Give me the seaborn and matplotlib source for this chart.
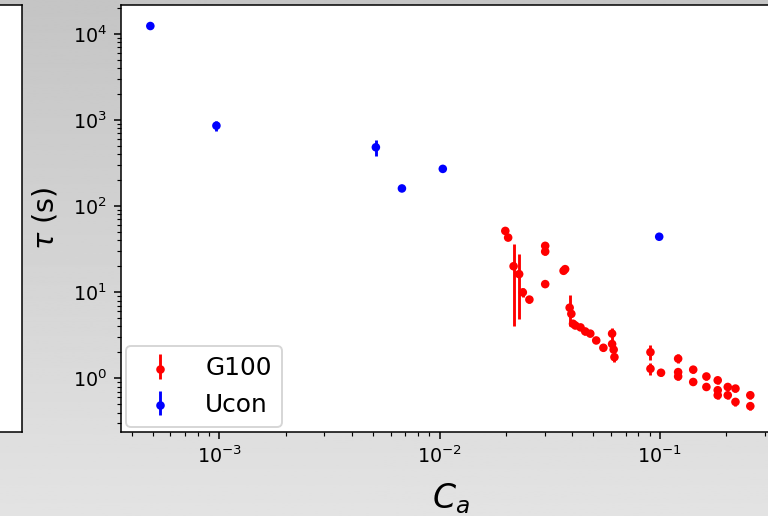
import numpy as np
import pandas as pd
import seaborn as sns
from matplotlib import pyplot as plt
from matplotlib.legend_handler import HandlerTuple

# G100 points
g100_ca = [0.0199, 0.0205, 0.0217, 0.0230, 0.0239, 0.0256, 0.0302, 0.0302, 0.0302,
           0.0366, 0.0372, 0.0390, 0.0397, 0.0404, 0.0414, 0.0437, 0.0459, 0.0484,
           0.0515, 0.0555, 0.0608, 0.0608, 0.0618, 0.0623, 0.0908, 0.0908, 0.1014,
           0.1213, 0.1213, 0.1213, 0.1420, 0.1420, 0.1630, 0.1630, 0.1835, 0.1835,
           0.1835, 0.2038, 0.2038, 0.2209, 0.2209, 0.258, 0.258]
g100_tau = [51.4, 43.0, 20.0, 16.2, 9.95, 8.2, 34.5, 29.6, 12.4,
            17.7, 18.5, 6.6, 5.6, 4.3, 4.1, 3.9, 3.5, 3.3,
            2.75, 2.26, 3.3, 2.5, 2.15, 1.76, 2.01, 1.29, 1.16,
            1.69, 1.18, 1.05, 1.26, 0.906, 1.05, 0.793, 0.948, 0.727,
            0.636, 0.793, 0.636, 0.760, 0.532, 0.636, 0.475]
g100_err = [3.0, 3.0, 16.0, 11.3, 1.2, 0.8, 3.0, 2.5, 1.0,
            1.0, 1.0, 2.6, 0.5, 0.4, 0.3, 0.3, 0.3, 0.2,
            0.2, 0.2, 0.5, 0.3, 0.2, 0.2, 0.4, 0.2, 0.1,
            0.2, 0.1, 0.1, 0.1, 0.08, 0.1, 0.07, 0.08, 0.06,
            0.06, 0.07, 0.06, 0.07, 0.05, 0.06, 0.05]

# Ucon points
ucon_ca = [4.86e-4, 9.7e-4, 5.14e-3, 6.75e-3, 1.035e-2, 0.0995]
ucon_tau = [1.23e4, 857, 481, 160, 270, 44]
ucon_err = [500, 120, 100, 10, 15, 2]

bg_shades = [0.77, 0.89]

df = pd.DataFrame({
    "Ca": g100_ca + ucon_ca,
    "tau": g100_tau + ucon_tau,
    "fluid": ["G100"] * len(g100_ca) + ["Ucon"] * len(ucon_ca),
})
colors = {"G100": "red", "Ucon": "blue"}

dpi = 138
fig = plt.figure(figsize=(768 / dpi, 516 / dpi), dpi=dpi)

# gray backdrop of the window
bg = fig.add_axes([0, 0, 1, 1], zorder=-10)
bg.imshow(np.linspace(bg_shades[0], bg_shades[1], 256)[:, None], cmap="gray",
          vmin=0, vmax=1, aspect="auto", extent=[0, 1, 0, 1])
bg.axis("off")

# edge of the neighbouring panel
left = fig.add_axes([-0.5, 0.1634, 0.5283, 0.827])
left.set_xticks([])
left.set_yticks([])

ax = fig.add_axes([0.157, 0.1634, 0.859, 0.827])
ax.set_xscale("log")
ax.set_yscale("log")

bars_g = ax.errorbar(g100_ca, g100_tau, yerr=g100_err, fmt="none", ecolor=colors["G100"])
bars_u = ax.errorbar(ucon_ca, ucon_tau, yerr=ucon_err, fmt="none", ecolor=colors["Ucon"])
sns.scatterplot(data=df, x="Ca", y="tau", hue="fluid", palette=colors,
                s=20, linewidth=0, legend=False, ax=ax, zorder=3)

dot_g = ax.scatter([], [], s=20, color=colors["G100"], linewidth=0)
dot_u = ax.scatter([], [], s=20, color=colors["Ucon"], linewidth=0)

ax.set_xlim(3.56e-4, 0.353)
ax.set_ylim(0.24, 2.16e4)
ax.set_xlabel("$C_a$", fontsize=17.3, labelpad=7.5)
ax.set_ylabel(r"$\tau$ (s)", fontsize=15, labelpad=7)
ax.legend([(bars_g, dot_g), (bars_u, dot_u)], ["G100", "Ucon"],
          handler_map={tuple: HandlerTuple(ndivide=1, pad=0)},
          loc="lower left", fontsize=13, borderaxespad=0.2)

fig.savefig("out.png", dpi=dpi)
